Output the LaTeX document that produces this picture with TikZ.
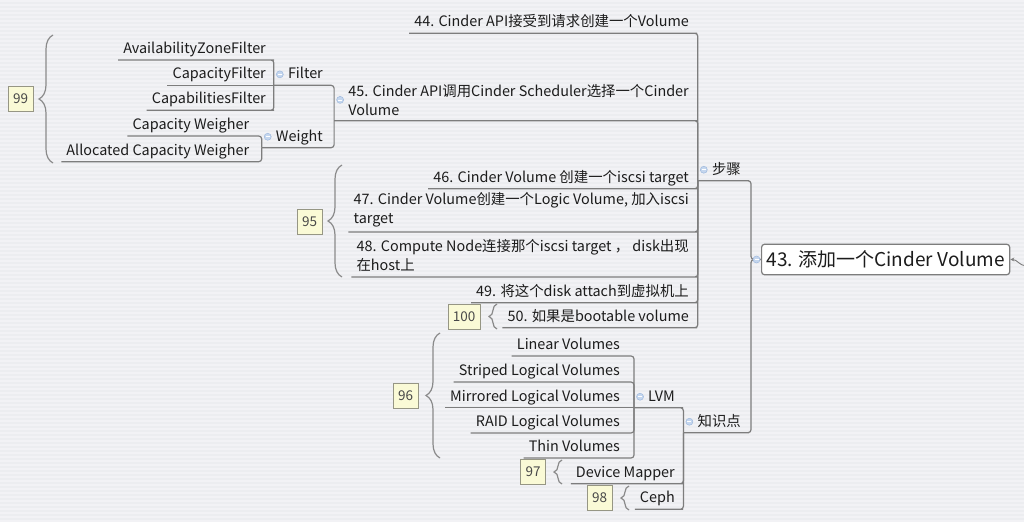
\documentclass[tikz,border=0pt]{standalone}
\usepackage{fontspec}
\setmainfont{Noto Sans CJK SC}
\usetikzlibrary{positioning,arrows.meta,decorations.pathreplacing,backgrounds,calc}

\definecolor{canvas}{RGB}{236,237,240}
\definecolor{stripe}{RGB}{242,242,245}
\definecolor{linkgray}{RGB}{125,125,125}
\definecolor{inkdark}{RGB}{28,28,28}
\definecolor{tagfill}{RGB}{250,250,214}
\definecolor{tagdraw}{RGB}{150,150,132}
\definecolor{foldfill}{RGB}{196,214,238}
\definecolor{folddraw}{RGB}{160,186,222}

\newcommand{\foldpad}{\hspace*{9pt}}

\begin{document}
\begin{tikzpicture}[
    x=1pt, y=-1pt,
    font=\fontsize{14.4}{19}\selectfont,
    >=Stealth,
    topicbase/.style={
        anchor=south east,
        inner xsep=5pt,
        inner ysep=4pt,
        text=inkdark,
        align=left
    },
    topic/.style={
        topicbase,
        text height=11pt,
        text depth=2.5pt
    },
    wraptopic/.style={
        topicbase,
        inner ysep=5pt
    },
    parent/.style={
        topic,
        execute at begin node=\foldpad
    },
    rootbox/.style={
        draw=linkgray,
        fill=white,
        rounded corners=3pt,
        line width=1.2pt,
        font=\fontsize{19}{23}\selectfont,
        text=inkdark,
        inner xsep=5pt,
        inner ysep=6.5pt,
        anchor=west
    },
    link/.style={
        draw=linkgray,
        line width=1.2pt,
        rounded corners=3pt
    },
    tagbox/.style={
        draw=tagdraw,
        fill=tagfill,
        line width=0.9pt,
        minimum width=25pt,
        minimum height=25pt,
        inner sep=2pt,
        text=inkdark!80,
        font=\fontsize{13.5}{16}\selectfont
    },
    grpbrace/.style={
        draw=linkgray!90,
        line width=1.2pt,
        decorate,
        decoration={brace, amplitude=#1}
    },
    fold/.style={
        circle,
        draw=folddraw,
        fill=foldfill,
        line width=0.5pt,
        inner sep=0pt,
        minimum size=7pt,
        path picture={\draw[white, line width=0.7pt]
            ([xshift=-2pt]path picture bounding box.center) --
            ([xshift=2pt]path picture bounding box.center);}
    }
]

\useasboundingbox (0,0) rectangle (1024,522);

% Root
\node[rootbox] (root) at (761,259.5) {43. 添加一个Cinder Volume};
\coordinate (inlet) at (1026,266);

% Branches
\node[parent] (steps) at (746,180.7) {步骤};
\node[parent] (know) at (746,432.7) {知识点};

% Steps
\node[topic] (s44) at (694,33.3) {44. Cinder API接受到请求创建一个Volume};
\node[wraptopic, execute at begin node=\foldpad] (s45) at (694,120.7) {45. Cinder API调用Cinder Scheduler选择一个Cinder\\Volume};
\node[topic] (s46) at (694,188.7) {46. Cinder Volume 创建一个iscsi target};
\node[wraptopic] (s47) at (694,232) {47. Cinder Volume创建一个Logic Volume, 加入iscsi\\target};
\node[wraptopic] (s48) at (694,277) {48. Compute Node连接那个iscsi target ， disk出现\\在host上};
\node[topic] (s49) at (694,302.7) {49. 将这个disk attach到虚拟机上};
\node[topic] (s50) at (694,327.7) {50. 如果是bootable volume};

% Scheduler
\node[parent] (filter) at (328,85.3) {Filter};
\node[parent] (weight) at (328,147.7) {Weight};
\node[topic] (azf) at (271,60) {AvailabilityZoneFilter};
\node[topic] (capf) at (271,85.3) {CapacityFilter};
\node[topic] (cabf) at (271,110.3) {CapabilitiesFilter};
\node[topic] (capw) at (254.3,136) {Capacity Weigher};
\node[topic] (allocw) at (254.3,161.7) {Allocated Capacity Weigher};

% Knowledge
\node[parent] (lvm) at (680,407.7) {LVM};
\node[topic] (dm) at (680,483.7) {Device Mapper};
\node[topic] (ceph) at (680,509.3) {Ceph};
\node[topic] (linv) at (625,356) {Linear Volumes};
\node[topic] (stripv) at (625,382) {Striped Logical Volumes};
\node[topic] (mirrv) at (625,407.7) {Mirrored Logical Volumes};
\node[topic] (raidv) at (625,433) {RAID Logical Volumes};
\node[topic] (thinv) at (625,458) {Thin Volumes};

% Boundary tags
\node[tagbox] (t99) at (20.5,99) {99};
\node[tagbox] (t95) at (309.5,221.5) {95};
\node[tagbox, minimum width=32pt] (t100) at (464,316.5) {100};
\node[tagbox] (t96) at (405.5,396) {96};
\node[tagbox] (t97) at (533,472) {97};
\node[tagbox] (t98) at (599.5,497.5) {98};

% Connectors
\draw[link] (root.west) -- ++(-10,0) |- (steps.south east) -- (steps.south west);
\draw[link] (root.west) -- ++(-10,0) |- (know.south east) -- (know.south west);
\draw[linkgray, line width=0.9pt, -{Stealth[length=4pt,width=4pt]}] (inlet) to[out=175,in=0] (root.east);

\foreach \kid in {s44,s45,s46,s47,s48,s49,s50}
    \draw[link] (steps.south west) |- (\kid.south east) -- (\kid.south west);

\draw[link] (s45.south west) |- (filter.south east) -- (filter.south west);
\draw[link] (s45.south west) |- (weight.south east) -- (weight.south west);

\draw[link] (filter.south west) |- (azf.south east) -- (azf.south west);
\draw[link] (filter.south west) -- (capf.south west);
\draw[link] (filter.south west) |- (cabf.south east) -- (cabf.south west);

\draw[link] (weight.south west) |- (capw.south east) -- (capw.south west);
\draw[link] (weight.south west) |- (allocw.south east) -- (allocw.south west);

\foreach \kid in {lvm,dm,ceph}
    \draw[link] (know.south west) |- (\kid.south east) -- (\kid.south west);

\draw[link] (lvm.south west) |- (linv.south east) -- (linv.south west);
\draw[link] (lvm.south west) |- (stripv.south east) -- (stripv.south west);
\draw[link] (lvm.south west) -- (mirrv.south west);
\draw[link] (lvm.south west) |- (raidv.south east) -- (raidv.south west);
\draw[link] (lvm.south west) |- (thinv.south east) -- (thinv.south west);

% Fold icons
\foreach \hub in {steps,know,s45,filter,weight,lvm}
    \node[fold] at ([xshift=6pt]\hub.west) {};
\node[fold] at ([xshift=-4.5pt]root.west) {};

% Braces
\draw[grpbrace=14] (53,163) -- (53,35);
\draw[grpbrace=14] (342,277) -- (342,165);
\draw[grpbrace=8] (497,329) -- (497,304);
\draw[grpbrace=14] (440,458) -- (440,333);
\draw[grpbrace=8] (562,484) -- (562,460);
\draw[grpbrace=8] (629,510) -- (629,486);

% Canvas
\begin{scope}[on background layer]
    \fill[canvas] (0,0) rectangle (1024,522);
    \foreach \yy in {0,4,...,520}
        \fill[stripe] (0,\yy) rectangle (1024,\yy+2);
\end{scope}

\end{tikzpicture}
\end{document}
